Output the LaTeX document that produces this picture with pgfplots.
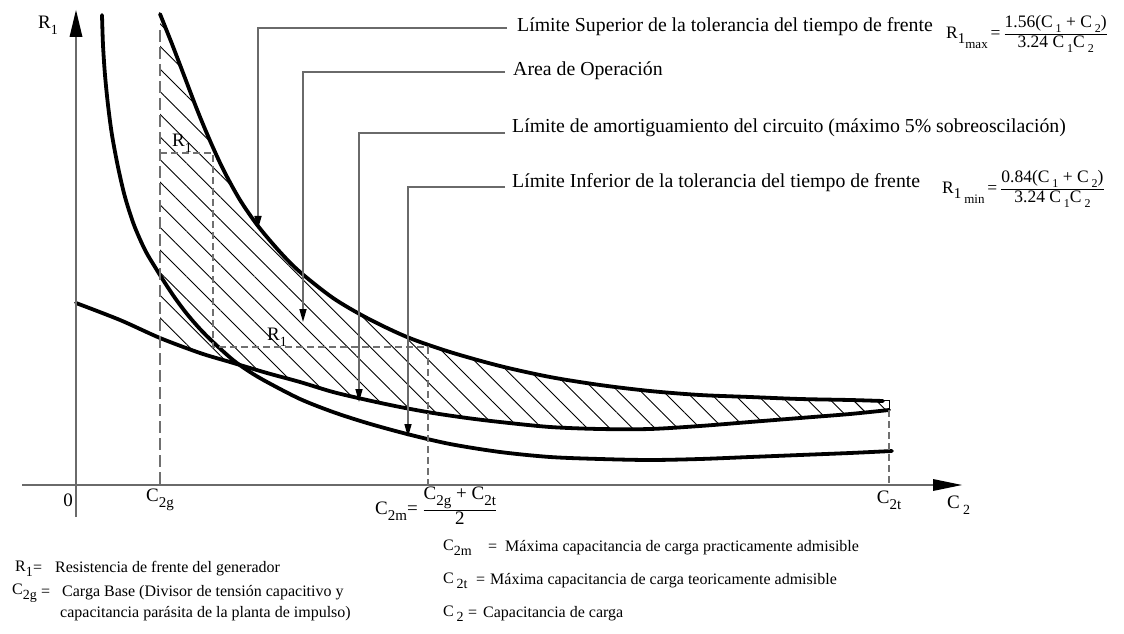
\documentclass[border=0pt]{standalone}
\usepackage{fontspec}
\setmainfont{Liberation Serif}
\usepackage{amsmath}
\usepackage{pgfplots}
\pgfplotsset{compat=1.18}
\usepgfplotslibrary{fillbetween}
\usetikzlibrary{arrows.meta,patterns.meta}
\definecolor{lead}{HTML}{6A6A6A}
\definecolor{dashgray}{HTML}{707070}

% lowered index, as in the original drawing
\newcommand\lo[2][14]{\raisebox{-0.3em}{\fontsize{#1}{#1}\selectfont #2}}
\newcommand\frc[2]{\ensuremath{\genfrac{}{}{1.1pt}{1}{\mbox{#1}}{\mbox{#2}}}}

\tikzset{
  big/.style={font=\fontsize{19.8}{23}\selectfont, anchor=west, inner sep=0},
  frm/.style={font=\fontsize{17.5}{20}\selectfont, anchor=west, inner sep=0},
  lab/.style={font=\fontsize{19}{21}\selectfont, inner sep=0},
  note/.style={font=\fontsize{16}{18}\selectfont, anchor=west, inner sep=0},
  ld/.style={lead, line width=1.5pt, -{Triangle[length=13pt, width=7pt, color=black]}}}

\begin{document}
\begin{tikzpicture}
\begin{axis}[name=ax, scale only axis, width=1124pt, height=633pt,
  xmin=0, xmax=1124, ymin=0, ymax=633, y dir=reverse,
  hide axis, clip=false]

% upper limit of the front time tolerance
\addplot[name path=upper, black, line width=3.8pt, line cap=round, smooth] coordinates {
 (160,14) (172,44) (185,78) (198,112) (211,143) (224,171) (240,200)
 (258,226) (280,252) (300,272) (333,298) (367,318) (407,337) (450,352)
 (500,366) (550,377) (600,385) (650,391) (700,395) (750,397) (800,399)
 (850,400) (883,401)};
% damping limit
\addplot[name path=damp, black, line width=3.8pt, line cap=round, smooth] coordinates {
 (76,303) (120,320) (160,338) (200,353) (230,362) (267,373) (300,382)
 (333,392) (367,400) (400,407) (433,413) (467,418) (500,422) (550,427)
 (600,429) (650,429) (700,426) (750,422) (800,418) (850,414) (889,410)};
% lower limit of the front time tolerance
\addplot[black, line width=3.8pt, line cap=round, smooth] coordinates {
 (102,15) (103,45) (105,75) (108,105) (112,135) (118,167) (125,197)
 (134,225) (145,250) (155,267) (165,283) (175,298) (187,314) (200,329)
 (213,342) (233,360) (250,372) (267,382) (300,399) (333,412) (367,423)
 (407,434) (450,444) (500,452) (550,457) (600,459) (650,460) (700,459)
 (750,457) (800,455) (850,453) (892,451)};
% operating area
\addplot[draw=none, pattern={Lines[angle=-45, distance=16pt, line width=0.9pt]}]
  fill between[of=upper and damp, soft clip={domain=160:889}];

% axes
\draw[lead, line width=1.5pt] (76,517) -- (76,30);
\fill (76,10) -- (69.5,37) -- (82.5,37) -- cycle;
\draw[lead, line width=1.5pt] (22,485) -- (935,485);
\fill (962,485) -- (933,479) -- (933,491) -- cycle;

% construction lines
\draw[dashgray, line width=1.4pt, dash pattern=on 12pt off 5pt] (160,30) -- (160,485);
\draw[dashgray, line width=1.3pt, dash pattern=on 7pt off 4pt]
  (160,153) -- (213,153) -- (213,347) -- (428,347) -- (428,485);
\draw[dashgray, line width=1.3pt, dash pattern=on 7pt off 4pt] (889,410) -- (889,485);
\draw[line width=0.8pt] (883,400) -- (889,400) -- (889,410);

% leaders
\draw[ld] (507,28) -- (258,28) -- (258,229);
\draw[ld] (505,72) -- (303,72) -- (303,322);
\draw[ld] (505,133) -- (359,133) -- (359,402);
\draw[ld] (505,187) -- (408,187) -- (408,437);

\node[big] at (517,27) {Límite Superior de la tolerancia del tiempo de frente};
\node[big] at (513,71) {Area de Operación};
\node[big] at (512,128) {Límite de amortiguamiento del circuito (máximo 5\% sobreoscilación)};
\node[big] at (512,183) {Límite Inferior de la tolerancia del tiempo de frente};

\node[frm] at (946,34) {R\lo[15]{1}\raisebox{-0.55em}{\fontsize{13}{13}\selectfont max}\,=\,%
  \frc{1.56(C\,\lo[12]{1} + C\,\lo[12]{2})}{3.24 C\,\lo[12]{1}C\,\lo[12]{2}}};
\node[frm] at (942,189) {R\lo[15]{1}\,\raisebox{-0.55em}{\fontsize{13}{13}\selectfont min}\,=\,%
  \frc{0.84(C\,\lo[12]{1} + C\,\lo[12]{2})}{3.24 C\,\lo[12]{1}C\,\lo[12]{2}}};

% axis labels
\node[lab] at (48,25) {R\lo{1}};
\node[lab] at (68,500) {0};
\node[lab] at (160,500) {C\lo[15]{2g}};
\node[lab, anchor=west] at (375,506) {C\lo[15]{2m}= \frc{C\lo[15]{2g} + C\lo[15]{2t}}{2}};
\node[lab] at (889,500) {C\lo[15]{2t}};
\node[lab, anchor=west] at (947,505) {C\,\lo{2}};
\node[lab] at (182,143) {R\lo{1}};
\node[lab] at (277,337) {R\lo{1}};

% notes
\node[note] at (15,569) {R\lo[14]{1}};
\node[note] at (33,569) {=};
\node[note] at (55,569) {Resistencia de frente del generador};
\node[note] at (12,593) {C\lo[14]{2g}};
\node[note] at (41,593) {=};
\node[note] at (62,593) {Carga Base (Divisor de tensión capacitivo y};
\node[note] at (60,614) {capacitancia parásita de la planta de impulso)};
\node[note] at (443,548) {C\lo[14]{2m}};
\node[note] at (488,548) {=};
\node[note] at (505,548) {Máxima capacitancia de carga practicamente admisible};
\node[note] at (443,581) {C\,\lo[14]{2t}};
\node[note] at (476,581) {=};
\node[note] at (490,581) {Máxima capacitancia de carga teoricamente admisible};
\node[note] at (443,614) {C\,\lo[14]{2}};
\node[note] at (468,614) {=};
\node[note] at (483,614) {Capacitancia de carga};
\end{axis}
\pgfresetboundingbox
\useasboundingbox (ax.south west) rectangle (ax.north east);
\end{tikzpicture}
\end{document}
